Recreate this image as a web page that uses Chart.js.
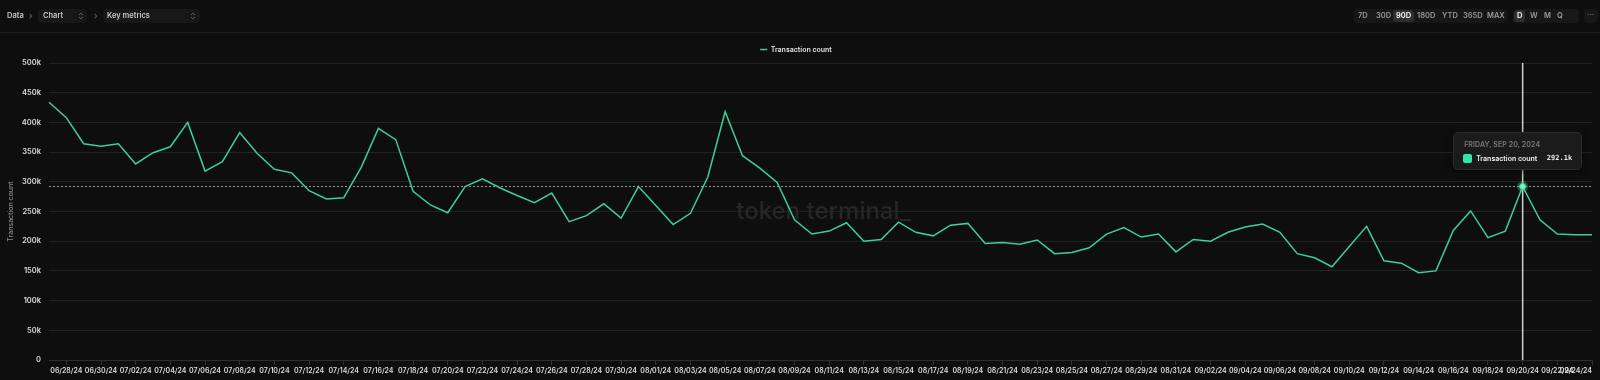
<!DOCTYPE html>
<html>
<head>
<meta charset="utf-8">
<script src="https://cdn.jsdelivr.net/npm/chart.js@4.4.0/dist/chart.umd.min.js"></script>
<style>
  html, body { margin:0; padding:0; background:#0e0e0e; width:1600px; height:380px; overflow:hidden; font-family: Inter, "Noto Sans", sans-serif; }
  #wrap { position:absolute; left:0; top:0; width:1600px; height:380px; }
  #c { position:absolute; left:0; top:0; }
  .bar { position:absolute; left:0; top:0; width:1600px; height:32px; border-bottom:1px solid #1c1c1c; }
  .t { position:absolute; font-size:7.5px; font-weight:600; color:#c8c8c8; line-height:14px; }
  .pill { position:absolute; top:9px; height:14px; background:#171717; border-radius:4px; }
  .sel { position:absolute; top:1px; height:12px; background:#2e2e2e; border-radius:3px; }
  .chev { position:absolute; font-size:9px; color:#777; line-height:14px; top:9px; }
  .ud { position:absolute; top:3px; }
  #tip { position:absolute; display:none; background:#1b1b1b; border:1px solid #2b2b2b; border-radius:5px; box-shadow:0 2px 6px rgba(0,0,0,0.5); box-sizing:border-box; }
  #tip .ttl { position:absolute; left:10px; top:7px; font-size:7px; font-weight:600; color:#7a7a7a; letter-spacing:0.1px; white-space:nowrap; }
  #tip .sq { position:absolute; left:9px; top:21px; width:9px; height:9px; border-radius:2px; }
  #tip .lbl { position:absolute; left:22px; top:20px; font-size:7px; font-weight:600; color:#f0f0f0; white-space:nowrap; line-height:11px; }
  #tip .val { position:absolute; right:9px; top:20px; font-size:7px; font-weight:600; color:#e8e8e8; font-family:"DejaVu Sans Mono","Liberation Mono",monospace; white-space:nowrap; line-height:11px; }
</style>
</head>
<body>
<div id="wrap">
  <canvas id="c" width="1600" height="380"></canvas>
  <div class="bar">
    <div class="t" style="left:7px;top:9px;">Data</div>
    <div class="chev" style="left:29px;">›</div>
    <div class="pill" style="left:38px;width:49px;">
      <div class="t" style="left:5px;top:0;">Chart</div>
      <svg class="ud" style="left:40px" width="6" height="8" viewBox="0 0 6 8"><path d="M1 3 L3 1 L5 3 M1 5 L3 7 L5 5" stroke="#666" stroke-width="0.9" fill="none"/></svg>
    </div>
    <div class="chev" style="left:94px;">›</div>
    <div class="pill" style="left:103px;width:97px;">
      <div class="t" style="left:4px;top:0;">Key metrics</div>
      <svg class="ud" style="left:87px" width="6" height="8" viewBox="0 0 6 8"><path d="M1 3 L3 1 L5 3 M1 5 L3 7 L5 5" stroke="#666" stroke-width="0.9" fill="none"/></svg>
    </div>

    <div class="pill" style="left:1354px;width:153px;">
      <div class="sel" style="left:39px;width:21px;"></div>
      <div class="t" style="left:4px;top:0;color:#9a9a9a;">7D</div>
      <div class="t" style="left:22px;top:0;color:#9a9a9a;">30D</div>
      <div class="t" style="left:42px;top:0;color:#ffffff;">90D</div>
      <div class="t" style="left:63px;top:0;color:#9a9a9a;">180D</div>
      <div class="t" style="left:88px;top:0;color:#9a9a9a;">YTD</div>
      <div class="t" style="left:109px;top:0;color:#9a9a9a;">365D</div>
      <div class="t" style="left:133px;top:0;color:#9a9a9a;">MAX</div>
    </div>
    <div class="pill" style="left:1513px;width:66px;">
      <div class="sel" style="left:1px;width:11px;"></div>
      <div class="t" style="left:4px;top:0;color:#ffffff;">D</div>
      <div class="t" style="left:17px;top:0;color:#9a9a9a;">W</div>
      <div class="t" style="left:31px;top:0;color:#9a9a9a;">M</div>
      <div class="t" style="left:44px;top:0;color:#9a9a9a;">Q</div>
    </div>
    <div class="pill" style="left:1584px;width:14px;">
      <div class="t" style="left:3px;top:-1px;color:#666;">···</div>
    </div>
  </div>
  <div id="tip"><div class="ttl"></div><div class="sq"></div><div class="lbl"></div><div class="val"></div></div>
</div>
<script>
// ---- Data ----
const categories = [
  "06/27/24","06/28/24","06/29/24","06/30/24",
  "07/01/24","07/02/24","07/03/24","07/04/24","07/05/24","07/06/24","07/07/24","07/08/24","07/09/24","07/10/24",
  "07/11/24","07/12/24","07/13/24","07/14/24","07/15/24","07/16/24","07/17/24","07/18/24","07/19/24","07/20/24",
  "07/21/24","07/22/24","07/23/24","07/24/24","07/25/24","07/26/24","07/27/24","07/28/24","07/29/24","07/30/24","07/31/24",
  "08/01/24","08/02/24","08/03/24","08/04/24","08/05/24","08/06/24","08/07/24","08/08/24","08/09/24","08/10/24",
  "08/11/24","08/12/24","08/13/24","08/14/24","08/15/24","08/16/24","08/17/24","08/18/24","08/19/24","08/20/24",
  "08/21/24","08/22/24","08/23/24","08/24/24","08/25/24","08/26/24","08/27/24","08/28/24","08/29/24","08/30/24","08/31/24",
  "09/01/24","09/02/24","09/03/24","09/04/24","09/05/24","09/06/24","09/07/24","09/08/24","09/09/24","09/10/24",
  "09/11/24","09/12/24","09/13/24","09/14/24","09/15/24","09/16/24","09/17/24","09/18/24","09/19/24","09/20/24",
  "09/21/24","09/22/24","09/23/24","09/24/24"
];
const transactionCount = [
  434000, 408000, 364000, 360000, 364000, 330000, 349000, 359000, 400000, 318000,
  334000, 383000, 348000, 321000, 315000, 285000, 271000, 273000, 324000, 390000,
  371000, 284000, 261000, 248000, 292000, 305000, 290000, 277000, 265000, 281000,
  233000, 243000, 263000, 239000, 292000, 260000, 228000, 247000, 308000, 418000,
  344000, 323000, 299000, 236000, 212000, 217000, 231000, 200000, 203000, 232000,
  215000, 209000, 227000, 230000, 196000, 198000, 195000, 202000, 179000, 181000,
  189000, 212000, 223000, 207000, 212000, 182000, 203000, 200000, 215000, 224000,
  229000, 215000, 179000, 172000, 157000, 191000, 225000, 167000, 163000, 147000,
  150000, 218000, 251000, 206000, 217000, 292100, 236000, 212000, 211000, 211000
];
const yTicks = [0, 50000, 100000, 150000, 200000, 250000, 300000, 350000, 400000, 450000, 500000];
const seriesName = "Transaction count";
const activeIndex = 85;
const activeTitle = "FRIDAY, SEP 20, 2024";

const LINE = '#3ccf96';
const BRIGHT = '#2fe8a8';

function fmtK(v) { return v === 0 ? '0' : (v / 1000).toFixed(v % 1000 ? 1 : 0) + 'k'; }

const overlay = {
  id: 'overlay',
  beforeDatasetsDraw(chart) {
    const {ctx, chartArea: a} = chart;
    ctx.save();
    ctx.font = '500 24px Inter, "Noto Sans", sans-serif';
    ctx.fillStyle = '#262626';
    ctx.textAlign = 'center';
    ctx.textBaseline = 'middle';
    ctx.fillText('token terminal_', (a.left + a.right) / 2 + 3, (a.top + a.bottom) / 2);
    ctx.restore();
  },
  afterDatasetsDraw(chart) {
    const act = chart.getActiveElements();
    if (!act.length) return;
    const {ctx, chartArea: a} = chart;
    const el = act[0].element;
    ctx.save();
    ctx.strokeStyle = '#9a9a9a';
    ctx.lineWidth = 1;
    ctx.setLineDash([2, 2]);
    ctx.beginPath();
    ctx.moveTo(a.left, Math.round(el.y) + 0.5);
    ctx.lineTo(a.right, Math.round(el.y) + 0.5);
    ctx.stroke();
    ctx.setLineDash([]);
    ctx.strokeStyle = '#cfcfcf';
    ctx.lineWidth = 1.5;
    ctx.beginPath();
    ctx.moveTo(el.x, a.top);
    ctx.lineTo(el.x, a.bottom);
    ctx.stroke();
    // glow + point
    ctx.fillStyle = 'rgba(60,207,150,0.35)';
    ctx.beginPath(); ctx.arc(el.x, el.y, 5.5, 0, Math.PI * 2); ctx.fill();
    ctx.fillStyle = '#7cf3c6';
    ctx.strokeStyle = LINE;
    ctx.lineWidth = 1;
    ctx.beginPath(); ctx.arc(el.x, el.y, 3, 0, Math.PI * 2); ctx.fill(); ctx.stroke();
    ctx.restore();
  }
};

function externalTip(context) {
  const {chart, tooltip} = context;
  const tip = document.getElementById('tip');
  if (tooltip.opacity === 0 || !tooltip.dataPoints || !tooltip.dataPoints.length) { tip.style.display = 'none'; return; }
  const dp = tooltip.dataPoints[0];
  tip.querySelector('.ttl').textContent = activeTitle;
  tip.querySelector('.sq').style.background = BRIGHT;
  tip.querySelector('.lbl').textContent = dp.dataset.label;
  tip.querySelector('.val').textContent = fmtK(dp.raw);
  const w = 129, h = 38;
  tip.style.width = w + 'px';
  tip.style.height = h + 'px';
  tip.style.left = (chart.canvas.offsetLeft + tooltip.caretX - w / 2 - 5) + 'px';
  tip.style.top = (chart.canvas.offsetTop + tooltip.caretY - h - 16) + 'px';
  tip.style.display = 'block';
}

const chart = new Chart(document.getElementById('c'), {
  type: 'line',
  data: {
    labels: categories,
    datasets: [{
      label: seriesName,
      data: transactionCount,
      borderColor: LINE,
      backgroundColor: LINE,
      borderWidth: 1.5,
      pointRadius: 0,
      pointHoverRadius: 0,
      tension: 0,
      fill: false
    }]
  },
  plugins: [overlay],
  options: {
    responsive: false,
    animation: false,
    events: [],
    layout: { padding: { top: 38, right: 8, left: 0, bottom: 0 } },
    plugins: {
      legend: {
        display: true,
        position: 'top',
        align: 'center',
        labels: {
          usePointStyle: true,
          pointStyle: 'line',
          pointStyleWidth: 7,
          boxHeight: 2,
          color: '#e0e0e0',
          padding: 8,
          font: { family: 'Inter', size: 7, weight: 600 }
        }
      },
      tooltip: { enabled: false, external: externalTip, mode: 'index', intersect: false }
    },
    scales: {
      x: {
        type: 'category',
        offset: false,
        grid: {
          display: true,
          drawOnChartArea: false,
          drawTicks: true,
          tickLength: 5,
          color: (c) => (c.index % 2 === 1 ? '#333333' : 'rgba(0,0,0,0)')
        },
        border: { display: true, color: '#2e2e2e' },
        ticks: {
          autoSkip: false,
          maxRotation: 0,
          minRotation: 0,
          align: 'inner',
          padding: 2,
          color: '#dcdcdc',
          font: { family: 'Inter', size: 7, weight: 600 },
          callback: (v, i) => (i % 2 === 1 ? categories[i] : '')
        },
        afterFit: (s) => { s.height = 20; }
      },
      y: {
        min: 0,
        max: 500000,
        afterBuildTicks: (s) => { s.ticks = yTicks.map(v => ({ value: v })); },
        grid: { color: '#222222', drawTicks: false, lineWidth: 1 },
        border: { display: false },
        ticks: {
          padding: 8,
          color: '#dcdcdc',
          font: { family: 'Inter', size: 7.5, weight: 600 },
          callback: (v) => fmtK(v)
        },
        title: {
          display: true,
          text: seriesName,
          color: '#8a8a8a',
          padding: { top: 7, bottom: 0 },
          font: { family: 'Inter', size: 7, weight: 500 }
        },
        afterFit: (s) => { s.width = 49; }
      }
    }
  }
});

const act = [{ datasetIndex: 0, index: activeIndex }];
chart.setActiveElements(act);
const m = chart.getDatasetMeta(0).data[activeIndex];
chart.tooltip.setActiveElements(act, { x: m.x, y: m.y });
chart.update('none');
</script>
</body>
</html>
